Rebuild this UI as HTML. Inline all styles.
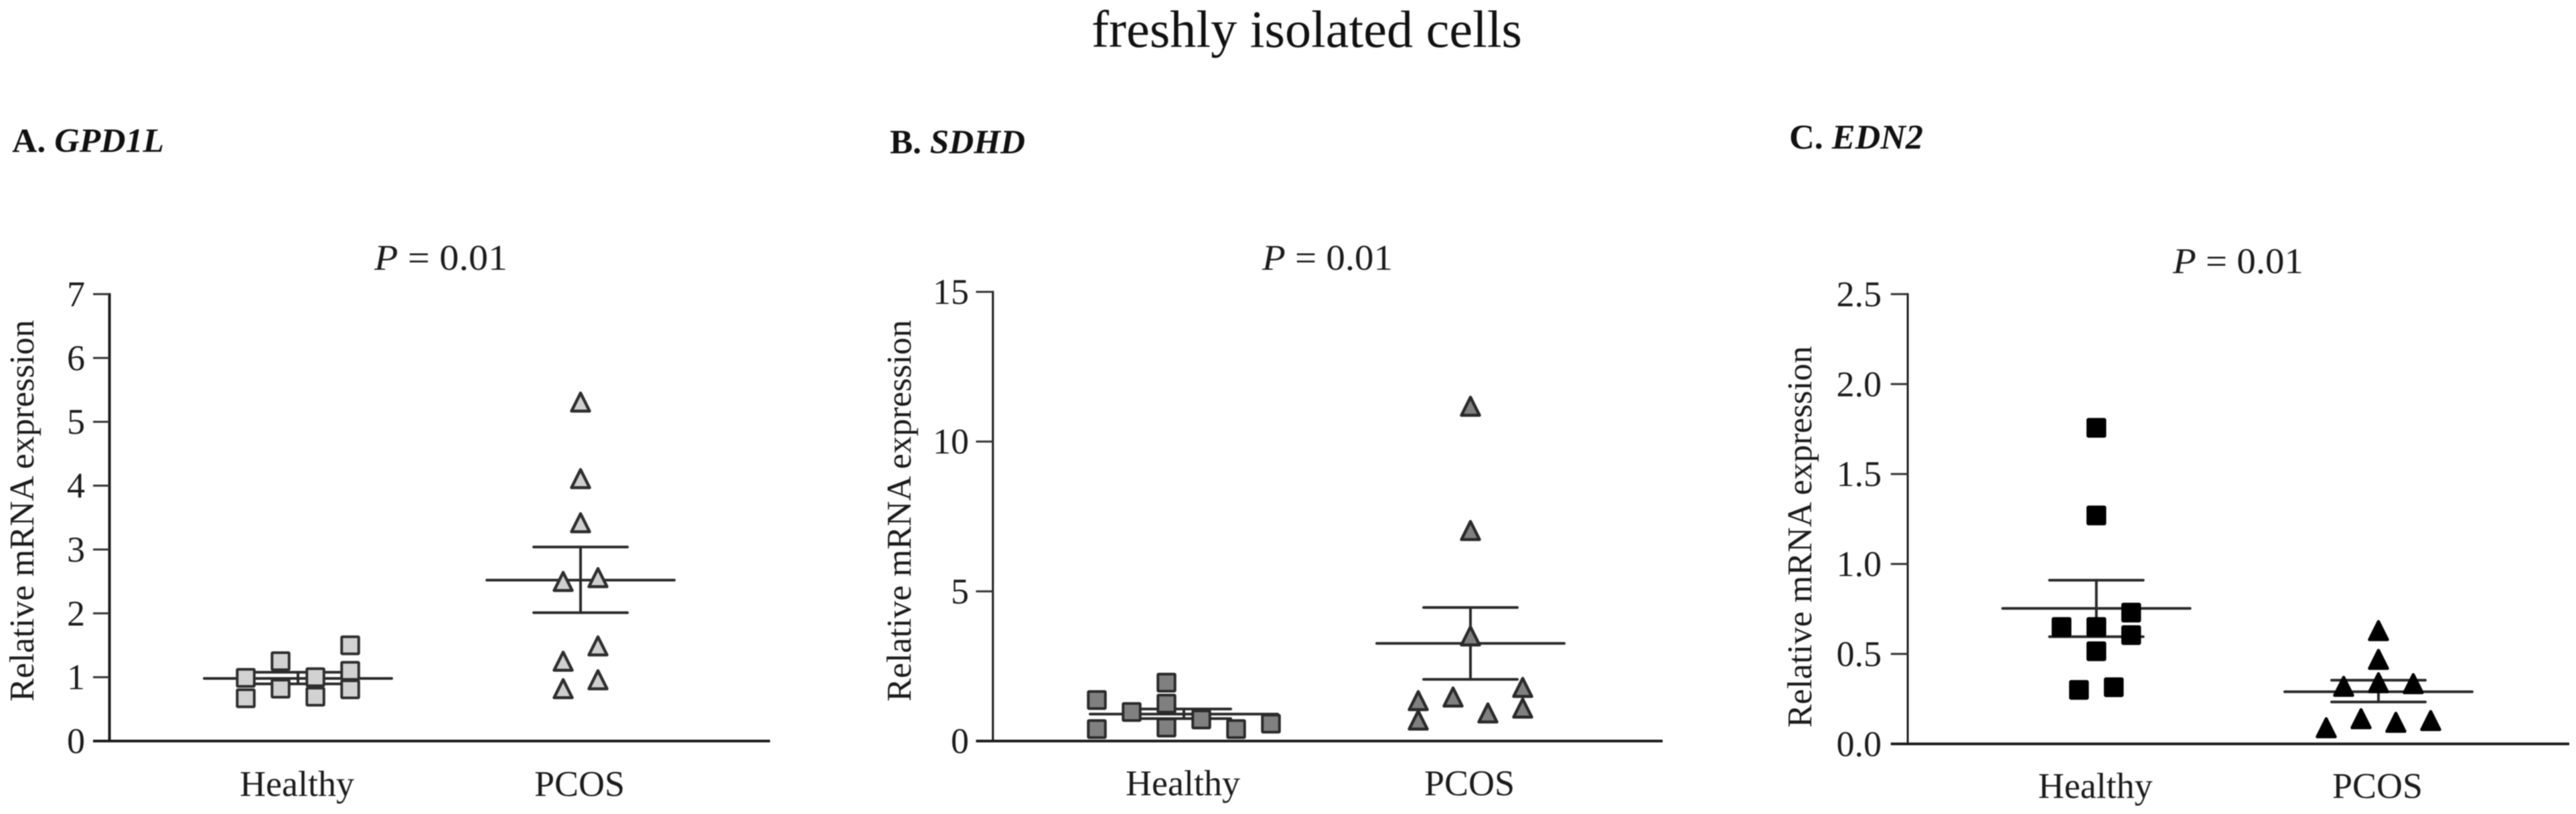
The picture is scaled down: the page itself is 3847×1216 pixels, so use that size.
<!DOCTYPE html>
<html lang="en">
<head>
<meta charset="utf-8">
<title>freshly isolated cells</title>
<style>
html,body{margin:0;padding:0;background:#fff;width:3847px;height:1216px;overflow:hidden}
svg{display:block;filter:blur(0.7px)}
text{font-family:"Liberation Serif",serif;fill:#1c1c1c}
</style>
</head>
<body>
<svg id="figure" xmlns="http://www.w3.org/2000/svg" width="3847" height="1216" viewBox="0 0 3847 1216">
  <rect width="3847" height="1216" fill="#ffffff"/>
  <text x="1630" y="70" font-size="78" textLength="643" lengthAdjust="spacingAndGlyphs" style="fill:#111">freshly isolated cells</text>
  <text x="18" y="227" font-size="51" font-weight="bold" textLength="227" lengthAdjust="spacingAndGlyphs" style="fill:#111">A. <tspan font-style="italic">GPD1L</tspan></text>
  <text x="1329" y="229" font-size="51" font-weight="bold" textLength="202" lengthAdjust="spacingAndGlyphs" style="fill:#111">B. <tspan font-style="italic">SDHD</tspan></text>
  <text x="2672" y="222" font-size="52" font-weight="bold" textLength="200" lengthAdjust="spacingAndGlyphs" style="fill:#111">C. <tspan font-style="italic">EDN2</tspan></text>
  <text x="559" y="403" font-size="54" textLength="199" lengthAdjust="spacingAndGlyphs"><tspan font-style="italic">P</tspan> = 0.01</text>
  <text x="1885" y="403" font-size="54" textLength="195" lengthAdjust="spacingAndGlyphs"><tspan font-style="italic">P</tspan> = 0.01</text>
  <text x="3245" y="408" font-size="54" textLength="195" lengthAdjust="spacingAndGlyphs"><tspan font-style="italic">P</tspan> = 0.01</text>
</svg>
<script>
const categories = ['Healthy', 'PCOS'];
const yAxisTitle = 'Relative mRNA expression';

const gpd1lTicks = ['0', '1', '2', '3', '4', '5', '6', '7'];
const gpd1lHealthyValues = [0.99, 0.67, 1.25, 0.82, 1.00, 0.695, 1.50, 1.10, 0.81];
const gpd1lHealthySlots = [-3, -3, -1, -1, 1, 1, 3, 3, 3];
const gpd1lPcosValues = [5.31, 4.11, 3.42, 2.50, 2.56, 1.49, 1.25, 0.96, 0.82];
const gpd1lPcosSlots = [0, 0, 0, -1, 1, 1, -1, 1, -1];
const gpd1lMeans = [0.98, 2.52];
const gpd1lUpper = [1.077, 3.04];
const gpd1lLower = [0.895, 2.01];

const sdhdTicks = ['0', '5', '10', '15'];
const sdhdHealthyValues = [1.37, 0.40, 0.97, 1.95, 1.25, 0.45, 0.72, 0.40, 0.58];
const sdhdHealthySlots = [-5, -5, -3, -1, -1, -1, 1, 3, 5];
const sdhdPcosValues = [11.18, 7.03, 3.51, 1.79, 1.10, 1.47, 0.94, 1.35, 0.70];
const sdhdPcosSlots = [0, 0, 0, 3, 3, -1, 1, -3, -3];
const sdhdMeans = [0.90, 3.26];
const sdhdUpper = [1.07, 4.46];
const sdhdLower = [0.75, 2.06];

const edn2Ticks = ['0.0', '0.5', '1.0', '1.5', '2.0', '2.5'];
const edn2HealthyValues = [1.757, 1.27, 0.65, 0.65, 0.73, 0.605, 0.515, 0.30, 0.315];
const edn2HealthySlots = [0, 0, -2, 0, 2, 2, 0, -1, 1];
const edn2PcosValues = [0.63, 0.47, 0.32, 0.34, 0.335, 0.14, 0.12, 0.13, 0.09];
const edn2PcosSlots = [0, 0, -2, 0, 2, -1, 1, 3, -3];
const edn2Means = [0.753, 0.29];
const edn2Upper = [0.91, 0.354];
const edn2Lower = [0.596, 0.233];

const SVG_NS = 'http://www.w3.org/2000/svg';
const root = document.getElementById('figure');
const SLOT_STEP = 26;

function make(tag, attrs, parent) {
  const node = document.createElementNS(SVG_NS, tag);
  for (const key in attrs) node.setAttribute(key, attrs[key]);
  parent.appendChild(node);
  return node;
}

function drawPanel(p) {
  const scaleY = v => p.y0 - (v / p.max) * (p.y0 - p.yTop);
  const ticksPerUnit = p.max / (p.ticks.length - 1);
  const g = make('g', {}, root);
  
  

  const yAxis = make('line', {x1: p.axisX, x2: p.axisX, y1: p.yTop - 1.5, y2: p.y0, stroke: '#1a1a1a', 'stroke-width': p.axisWidth}, g);
  
  

  const xAxis = make('line', {x1: p.tickStart, x2: p.axisEnd, y1: p.y0, y2: p.y0, stroke: '#1a1a1a', 'stroke-width': 4}, g);
  
  

  p.ticks.forEach((label, i) => {
    const y = scaleY(i * ticksPerUnit);
    if (i > 0) {
      const tick = make('line', {x1: p.tickStart, x2: p.axisX, y1: y, y2: y, stroke: '#333', 'stroke-width': 3}, g);
      
      
    }
    const text = make('text', {x: p.tickLabelX, y: y + 18, 'font-size': 54, 'text-anchor': 'end'}, g);
    
    
    text.textContent = label;
  });

  const title = make('text', {
    transform: 'translate(' + p.titleX + ',' + p.titleBottom + ') rotate(-90)',
    x: 0, y: 0, 'font-size': 52, textLength: 570, lengthAdjust: 'spacingAndGlyphs'
  }, g);
  
  
  title.textContent = yAxisTitle;

  categories.forEach((name, i) => {
    const label = make('text', {x: p.centers[i] - 1.5, y: p.catY, 'font-size': 54, 'text-anchor': 'middle'}, g);
    
    
    label.textContent = name;

    const cx = p.centers[i];
    const stats = make('g', {stroke: '#2a2a2a', 'stroke-width': 4, 'stroke-linecap': 'round'}, g);
    
    
    const yMean = scaleY(p.means[i]), yUp = scaleY(p.upper[i]), yLow = scaleY(p.lower[i]);
    make('line', {x1: cx - 140, x2: cx + 140, y1: yMean, y2: yMean}, stats);
    make('line', {x1: cx - 70, x2: cx + 70, y1: yUp, y2: yUp}, stats);
    make('line', {x1: cx - 70, x2: cx + 70, y1: yLow, y2: yLow}, stats);
    make('line', {x1: cx, x2: cx, y1: yUp, y2: yLow}, stats);
  });

  p.healthy.forEach((v, i) => {
    const cx = p.centers[0] + p.healthySlots[i] * SLOT_STEP;
    const cy = scaleY(v);
    const square = make('rect', {x: cx - 12.75, y: cy - 12.75, width: 25.5, height: 25.5, rx: 1, fill: p.squareFill, stroke: p.markStroke, 'stroke-width': 4}, g);
    
    
  });

  p.pcos.forEach((v, i) => {
    const cx = p.centers[1] + p.pcosSlots[i] * SLOT_STEP;
    const cy = scaleY(v);
    const pts = [[cx, cy - 13.5], [cx + 13.5, cy + 13.5], [cx - 13.5, cy + 13.5]].map(q => q.join(',')).join(' ');
    const triangle = make('polygon', {points: pts, fill: p.triangleFill, stroke: p.markStroke, 'stroke-width': 4.5, 'stroke-linejoin': 'round'}, g);
    
    
  });
}

drawPanel({
  id: 'gpd1l', max: 7, ticks: gpd1lTicks, y0: 1107, yTop: 439.4,
  axisX: 163.5, axisWidth: 4, tickStart: 139, axisEnd: 1150, tickLabelX: 127,
  titleX: 50, titleBottom: 1048, catY: 1189, centers: [445, 867],
  healthy: gpd1lHealthyValues, healthySlots: gpd1lHealthySlots,
  pcos: gpd1lPcosValues, pcosSlots: gpd1lPcosSlots,
  means: gpd1lMeans, upper: gpd1lUpper, lower: gpd1lLower,
  squareFill: '#d2d2d2', triangleFill: '#cfcfcf', markStroke: '#2e2e2e'
});

drawPanel({
  id: 'sdhd', max: 15, ticks: sdhdTicks, y0: 1107, yTop: 436,
  axisX: 1482.8, axisWidth: 3, tickStart: 1457.5, axisEnd: 2483, tickLabelX: 1447,
  titleX: 1360, titleBottom: 1048, catY: 1188, centers: [1768, 2196],
  healthy: sdhdHealthyValues, healthySlots: sdhdHealthySlots,
  pcos: sdhdPcosValues, pcosSlots: sdhdPcosSlots,
  means: sdhdMeans, upper: sdhdUpper, lower: sdhdLower,
  squareFill: '#808080', triangleFill: '#808080', markStroke: '#2a2a2a'
});

drawPanel({
  id: 'edn2', max: 2.5, ticks: edn2Ticks, y0: 1111.3, yTop: 439.4,
  axisX: 2849, axisWidth: 3, tickStart: 2823.7, axisEnd: 3837, tickLabelX: 2810,
  titleX: 2705, titleBottom: 1087, catY: 1192, centers: [3130.7, 3552],
  healthy: edn2HealthyValues, healthySlots: edn2HealthySlots,
  pcos: edn2PcosValues, pcosSlots: edn2PcosSlots,
  means: edn2Means, upper: edn2Upper, lower: edn2Lower,
  squareFill: '#000000', triangleFill: '#000000', markStroke: '#000000'
});
</script>
</body>
</html>
